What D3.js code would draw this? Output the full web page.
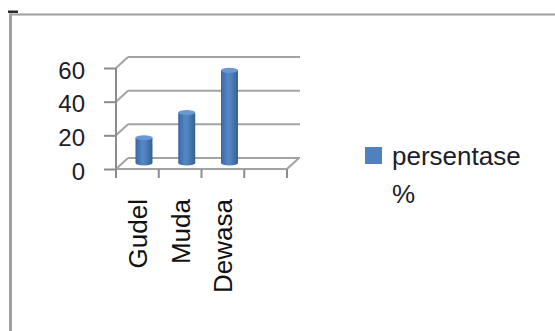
<!DOCTYPE html>
<html>
<head>
<meta charset="utf-8">
<script src="https://cdn.jsdelivr.net/npm/d3@7"></script>
<style>
  html, body { margin: 0; padding: 0; background: #fff; }
  svg { display: block; }
</style>
</head>
<body>
<svg id="chart" width="555" height="331"></svg>
<script>
// ---- data ----
const categories = ["Gudel", "Muda", "Dewasa"];
const values = [15, 30, 55];
const yTicks = [0, 20, 40, 60];
const seriesName = ["persentase", "%"];

// ---- layout ----
const svg = d3.select("#chart");
const FONT = "'Liberation Sans', Arial, sans-serif";
const DX = 12, DY = -11;          // 3D depth offset
const BAR_DEPTH = 0.55;           // bars sit mid-depth
const slots = [...categories, ""];

const x = d3.scaleBand().domain(slots).range([116, 287]).paddingInner(0).paddingOuter(0);
const y = d3.scaleLinear().domain([0, 60]).range([169, 68]);

// frame
svg.append("line").attr("x1", 10).attr("x2", 555).attr("y1", 14.5).attr("y2", 14.5)
  .attr("stroke", "#a0a0a0").attr("stroke-width", 2.2);
svg.append("line").attr("x1", 10.5).attr("x2", 10.5).attr("y1", 13.5).attr("y2", 331)
  .attr("stroke", "#a0a0a0").attr("stroke-width", 3);
svg.append("rect").attr("x", 8).attr("y", 10.5).attr("width", 10).attr("height", 2.5).attr("fill", "#2a2a2a");

const grid = svg.append("g").attr("stroke", "#a3a3a3").attr("stroke-width", 2).attr("fill", "none");
const x0 = x.range()[0], x1 = x.range()[1];
// back-wall gridlines + diagonals
yTicks.forEach(t => {
  grid.append("line").attr("x1", x0 + DX).attr("x2", x1 + DX + 1)
    .attr("y1", y(t) + DY).attr("y2", y(t) + DY);
  grid.append("line").attr("x1", x0).attr("x2", x0 + DX)
    .attr("y1", y(t)).attr("y2", y(t) + DY);
});
// floor front and right edge
grid.append("line").attr("x1", x0).attr("x2", x1).attr("y1", y(0)).attr("y2", y(0));
grid.append("line").attr("x1", x1).attr("x2", x1 + DX).attr("y1", y(0)).attr("y2", y(0) + DY);

// y axis
const yAxis = svg.append("g").attr("transform", `translate(${x0},0)`)
  .call(d3.axisLeft(y).tickValues(yTicks).tickSizeInner(12).tickSizeOuter(0).tickPadding(19));
yAxis.select(".domain").remove();
yAxis.selectAll(".tick line").attr("stroke", "#8c8c8c").attr("stroke-width", 2);
yAxis.selectAll(".tick text").attr("font-family", FONT).attr("font-size", 24)
  .attr("fill", "#1c1c2a").attr("dy", "0.42em");
svg.append("line").attr("x1", x0).attr("x2", x0).attr("y1", y(60)).attr("y2", y(0) + 9)
  .attr("stroke", "#8c8c8c").attr("stroke-width", 2);

// x axis ticks at slot boundaries
const bounds = [...slots.map(s => x(s)), x1];
svg.append("g").selectAll("line").data(bounds).join("line")
  .attr("x1", d => d).attr("x2", d => d).attr("y1", y(0)).attr("y2", y(0) + 9)
  .attr("stroke", "#8c8c8c").attr("stroke-width", 2);

// cylinder gradient
const defs = svg.append("defs");
const g = defs.append("linearGradient").attr("id", "cyl").attr("x1", "0%").attr("x2", "100%");
g.append("stop").attr("offset", "0%").attr("stop-color", "#3a679f");
g.append("stop").attr("offset", "40%").attr("stop-color", "#5587c6");
g.append("stop").attr("offset", "60%").attr("stop-color", "#4f80bd");
g.append("stop").attr("offset", "100%").attr("stop-color", "#34608f");

// bars (cylinders)
const BW = 17, RY = 2.5;
const bars = svg.append("g").selectAll("g").data(categories.map((c, i) => ({ c, v: values[i] }))).join("g");
bars.each(function (d) {
  const gEl = d3.select(this);
  const cx = x(d.c) + x.bandwidth() / 2 + BAR_DEPTH * DX;
  const yb = y(0) + BAR_DEPTH * DY;
  const yt = y(d.v) + BAR_DEPTH * DY;
  gEl.append("path")
    .attr("d", `M${cx - BW / 2},${yt} L${cx - BW / 2},${yb} A${BW / 2},${RY} 0 0 0 ${cx + BW / 2},${yb} L${cx + BW / 2},${yt} Z`)
    .attr("fill", "url(#cyl)");
  gEl.append("ellipse").attr("cx", cx).attr("cy", yt).attr("rx", BW / 2).attr("ry", RY)
    .attr("fill", "#6a98d2");
});

// category labels (rotated)
svg.append("g").selectAll("text").data(categories).join("text")
  .attr("transform", d => `translate(${x(d) + x.bandwidth() / 2},199) rotate(-90)`)
  .attr("text-anchor", "end").attr("dy", "0.36em")
  .attr("font-family", FONT).attr("font-size", 26).attr("fill", "#111")
  .text(d => d);

// legend
svg.append("rect").attr("x", 365).attr("y", 147).attr("width", 17).attr("height", 17).attr("fill", "#4f81bd");
svg.append("g").selectAll("text").data(seriesName).join("text")
  .attr("x", 392).attr("y", (d, i) => 165 + i * 38)
  .attr("font-family", FONT).attr("font-size", 26).attr("fill", "#1c1c2a")
  .text(d => d);
</script>
</body>
</html>
